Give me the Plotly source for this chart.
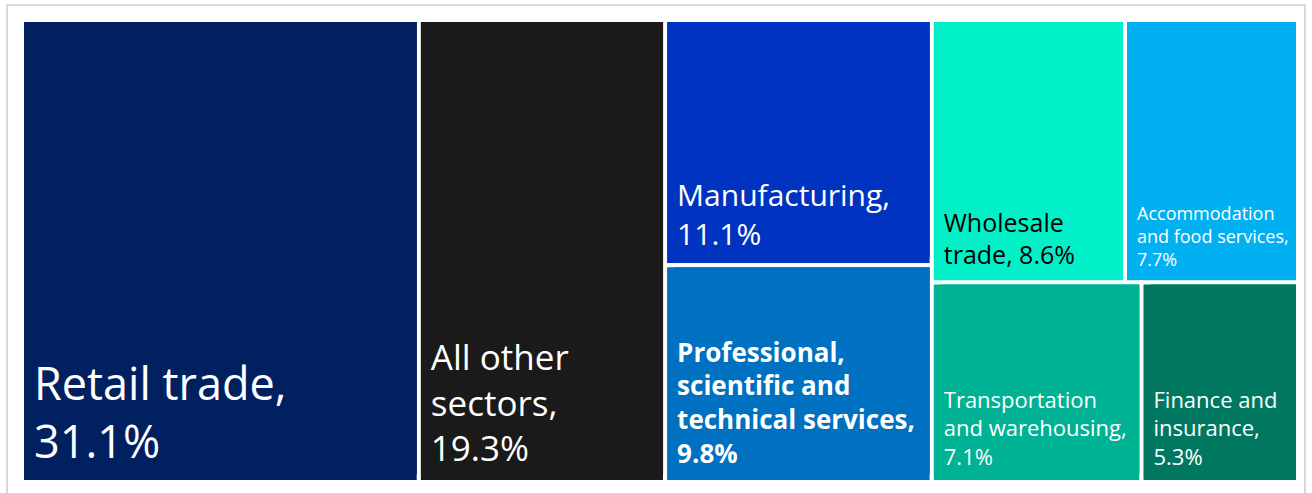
import plotly.graph_objects as go

sectors = ["Retail trade", "All other sectors", "Manufacturing",
           "Professional, scientific and technical services", "Wholesale trade",
           "Accommodation and food services", "Transportation and warehousing",
           "Finance and insurance"]
shares = [31.1, 19.3, 11.1, 9.8, 8.6, 7.7, 7.1, 5.3]
display_labels = [
    "Retail trade,<br>31.1%",
    "All other<br>sectors,<br>19.3%",
    "Manufacturing,<br>11.1%",
    "<b>Professional,<br>scientific and<br>technical services,<br>9.8%</b>",
    "Wholesale<br>trade, 8.6%",
    "Accommodation<br>and food services,<br>7.7%",
    "Transportation<br>and warehousing,<br>7.1%",
    "Finance and<br>insurance,<br>5.3%",
]
tile_colors = ["#002060", "#1b1a1a", "#0033c0", "#0070c0", "#00f0c8",
               "#00b0f0", "#00b294", "#007860"]
text_colors = ["white", "white", "white", "white", "black", "white", "white", "white"]
text_sizes = [45, 35, 30, 26, 25, 18, 22, 22]

W, H = 1312, 493
PAD_L, PAD_B, PAD_T, PAD_R = 9, 8, 2, 2
ml, mr, mt, mb = 22 - PAD_L, 14 - PAD_R, 20 - PAD_T, 11 - PAD_B

# hierarchy: root -> sector tile -> inner label tile (same colour, inset by pad)
root = "All sectors"
labels = [root]
parents = [""]
values = [sum(shares)]
texts = [""]
colors = ["white"]
tcolors = ["rgba(0,0,0,0)"]
tsizes = [10]
lwidths = [0]
for s, v, c, ts in zip(sectors, shares, tile_colors, text_sizes):
    labels.append(s); parents.append(root); values.append(v)
    texts.append(""); colors.append(c); tcolors.append("rgba(0,0,0,0)")
    tsizes.append(ts); lwidths.append(4)
for s, v, t, c, tc, ts in zip(sectors, shares, display_labels, tile_colors,
                              text_colors, text_sizes):
    labels.append(s + " "); parents.append(s); values.append(v)
    texts.append(t); colors.append(c); tcolors.append(tc); tsizes.append(ts)
    lwidths.append(0)

fig = go.Figure(go.Treemap(
    labels=labels,
    parents=parents,
    values=values,
    branchvalues="total",
    text=texts,
    texttemplate="%{text}",
    textposition="bottom left",
    textfont=dict(family="Segoe UI, Open Sans, Noto Sans, sans-serif",
                  color=tcolors, size=tsizes),
    marker=dict(colors=colors, line=dict(color="white", width=lwidths),
                pad=dict(t=PAD_T, l=PAD_L, r=PAD_R, b=PAD_B)),
    tiling=dict(packing="squarify", squarifyratio=1, pad=0),
    pathbar=dict(visible=False),
    sort=True,
    hoverinfo="label+value",
))

pw, ph = W - ml - mr, H - mt - mb
def px_x(p):
    return (p - ml) / pw
def px_y(p):
    return 1 - (p - mt) / ph

fig.add_shape(type="rect", xref="paper", yref="paper",
              x0=px_x(7), x1=px_x(1305), y0=px_y(500), y1=px_y(5),
              line=dict(color="#d9d9d9", width=2), fillcolor="rgba(0,0,0,0)",
              layer="below")

fig.update_layout(
    width=W, height=H,
    margin=dict(l=ml, r=mr, t=mt, b=mb),
    paper_bgcolor="white",
    showlegend=False,
)

fig.write_html("out.html")
